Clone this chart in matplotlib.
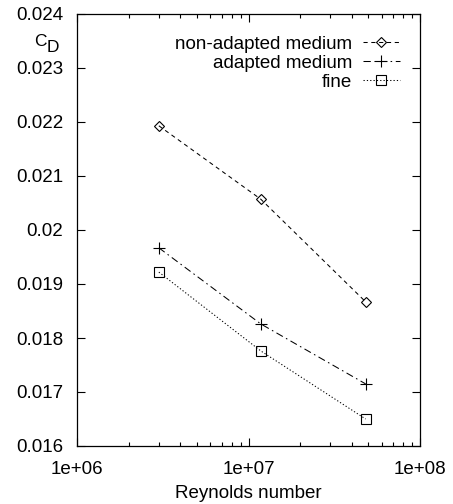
import matplotlib
matplotlib.use("Agg")
import matplotlib.pyplot as plt
from matplotlib.ticker import FixedLocator, LogLocator, NullFormatter

plt.rcParams['font.family'] = ['Liberation Sans', 'DejaVu Sans']
plt.rcParams['font.size'] = 13.5

reynolds = [3.0e6, 1.18e7, 4.82e7]
cd_nonadapted = [0.02193, 0.02057, 0.01867]
cd_adapted = [0.01967, 0.01826, 0.01715]
cd_fine = [0.01922, 0.01776, 0.01650]
yticks = [0.016, 0.017, 0.018, 0.019, 0.02, 0.021, 0.022, 0.023, 0.024]
ytick_labels = ["0.016", "0.017", "0.018", "0.019", "0.02", "0.021", "0.022", "0.023", "0.024"]
xticks = [1e6, 1e7, 1e8]
xtick_labels = ["1e+06", "1e+07", "1e+08"]

fig = plt.figure(figsize=(4.53, 5.04), dpi=100)
# axes box: x 77..420 px, y 14..446 px
ax = fig.add_axes([77 / 453, 58 / 504, 343 / 453, 432 / 504])

lw = 0.75
ax.plot(reynolds, cd_nonadapted, color='black', lw=lw, ls=(0, (4, 3.5)),
        marker='D', ms=5, mfc='none', mew=0.8, label='non-adapted medium')
ax.plot(reynolds, cd_adapted, color='black', lw=lw, ls=(0, (7, 3.5, 1.5, 3.5)),
        marker='+', ms=8, mew=0.8, label='adapted medium')
ax.plot(reynolds, cd_fine, color='black', lw=lw, ls=(0, (1.2, 2)),
        marker='s', ms=6.5, mfc='none', mew=0.8, label='fine')

ax.set_xscale('log')
ax.set_xlim(1e6, 1e8)
ax.set_ylim(0.016, 0.024)
ax.xaxis.set_major_locator(FixedLocator(xticks))
ax.set_xticklabels(xtick_labels)
ax.xaxis.set_minor_locator(LogLocator(base=10, subs=range(2, 10)))
ax.xaxis.set_minor_formatter(NullFormatter())
ax.set_yticks(yticks)
ax.set_yticklabels(ytick_labels)
ax.tick_params(which='both', direction='in', top=True, right=True, width=0.8)
ax.tick_params(which='major', length=6)
ax.tick_params(which='minor', length=3)
ax.tick_params(axis='x', pad=11)
ax.tick_params(axis='y', pad=10)
for s in ax.spines.values():
    s.set_linewidth(0.9)

ax.set_xlabel("Reynolds number", labelpad=5)
# C_D label, gnuplot style: subscript nearly full size
fig.text(34 / 453, 1 - 34 / 504, "C", fontsize=12.5, ha='left', va='top')
fig.text(47 / 453, 1 - 40 / 504, "D", fontsize=12.5, ha='left', va='top')

ax.legend(loc='upper right', bbox_to_anchor=(0.942, 0.950), frameon=False,
          markerfirst=False, handlelength=2.0, handletextpad=0.55,
          labelspacing=0.1, borderpad=0.0, borderaxespad=0.0)
leg = ax.get_legend()
for t in leg.get_texts():
    t.set_ha('right')

fig.savefig("out.png", dpi=100)
